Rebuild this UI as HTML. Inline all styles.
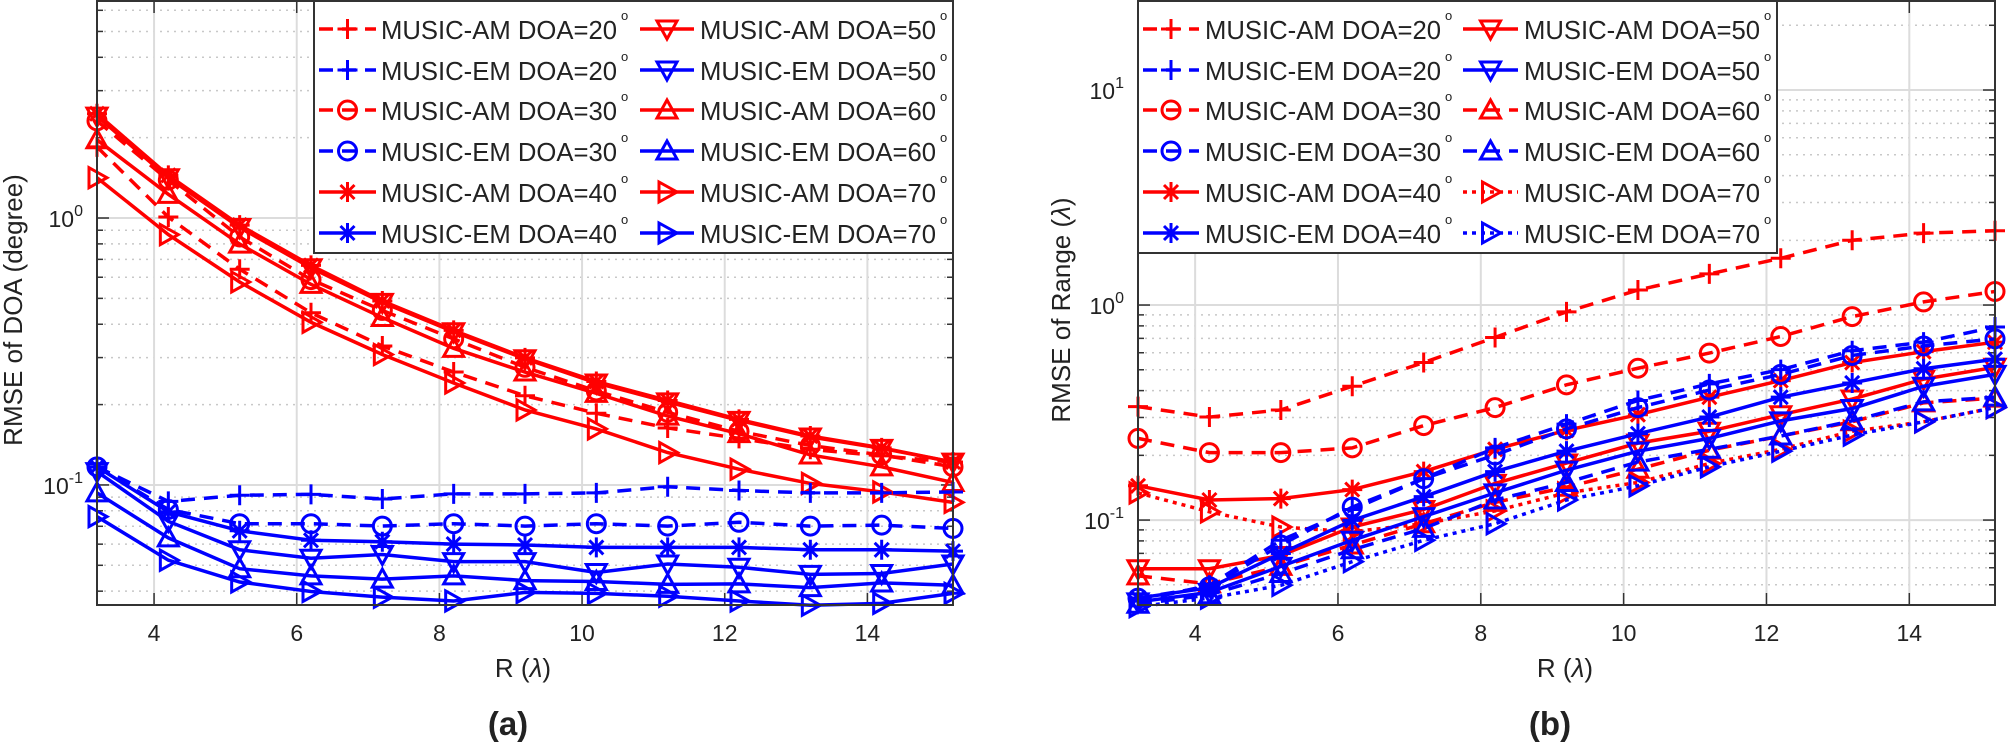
<!DOCTYPE html>
<html><head><meta charset="utf-8"><style>
html,body{margin:0;padding:0;background:#fff;width:2009px;height:743px;overflow:hidden}
svg{display:block}
text{font-family:"Liberation Sans",Arial,sans-serif;fill:#222}
</style></head><body>
<svg id="s" width="2009" height="743" xmlns="http://www.w3.org/2000/svg"></svg>
<script>
const S=document.getElementById('s');let h='';
const K=2.11;
function plot(P){
 const {L,R,T,B,ylo,yhi,labs,ylab,ylabx,lab,labx,data,leg}=P;
 const X=x=>L+(x-3.2)/(12)*(R-L);
 const Y=v=>T+(yhi-v)/(yhi-ylo)*(B-T);
 // grid
 for(let d=Math.floor(ylo);d<=Math.ceil(yhi);d++){
  for(let m=1;m<10;m++){const lv=d+Math.log10(m);if(lv<ylo||lv>yhi)continue;const y=Y(lv);
   if(m==1){h+=`<line x1="${L}" x2="${R}" y1="${y}" y2="${y}" stroke="#dcdcdc" stroke-width="2"/>`;
    h+=`<line x1="${L}" x2="${L+12}" y1="${y}" y2="${y}" stroke="#333" stroke-width="1.5"/><line x1="${R}" x2="${R-12}" y1="${y}" y2="${y}" stroke="#333" stroke-width="1.5"/>`;}
   else{h+=`<line x1="${L}" x2="${R}" y1="${y}" y2="${y}" stroke="#c8c8c8" stroke-width="1.5" stroke-dasharray="2,5"/>`;
    h+=`<line x1="${L}" x2="${L+6}" y1="${y}" y2="${y}" stroke="#333" stroke-width="1.5"/><line x1="${R}" x2="${R-6}" y1="${y}" y2="${y}" stroke="#333" stroke-width="1.5"/>`;}
  }}
 for(let x=4;x<=14;x+=2){const px=L+(x-3.2)/12*(R-L);
  h+=`<line x1="${px}" x2="${px}" y1="${T}" y2="${B}" stroke="#dcdcdc" stroke-width="2"/>`;
  h+=`<line x1="${px}" x2="${px}" y1="${B}" y2="${B-12}" stroke="#333" stroke-width="1.5"/><line x1="${px}" x2="${px}" y1="${T}" y2="${T+12}" stroke="#333" stroke-width="1.5"/>`;
  h+=`<text x="${px}" y="${B+36}" font-size="23" text-anchor="middle">${x}</text>`;}
 labs.forEach(([v,t])=>{const y=Y(v);h+=`<text x="${L-14}" y="${y+9}" font-size="23" text-anchor="end">10<tspan dy="-11" font-size="16">${t}</tspan></text>`;});
 // series
 data.forEach(s=>{
  const pts=s.y.map((zy,i)=>[X(3.2+i),zy/K]);
  const da=s.ls=='--'?'14,9':s.ls==':'?'4,5':'none';
  h+=`<polyline points="${pts.map(p=>p.join(',')).join(' ')}" fill="none" stroke="${s.c}" stroke-width="3.5" stroke-dasharray="${da}"/>`;
  pts.forEach(p=>h+=mk(s.m,p[0],p[1],s.c));
 });
 // box
 h+=`<rect x="${L}" y="${T}" width="${R-L}" height="${B-T}" fill="none" stroke="#333" stroke-width="2"/>`;
 // legend
 h+=`<rect x="${leg.x}" y="${T}" width="${leg.w}" height="${leg.b-T}" fill="#fff" stroke="#333" stroke-width="2"/>`;
 const rows=[29,70,110,151,192,233];
 leg.items.forEach((it,i)=>{const col=i<6?0:1;const r=rows[i%6];const c=leg.cols[col];
  const da=it.ls=='--'?'14,9':it.ls==':'?'4,5':'none';
  h+=`<line x1="${c[0]}" x2="${c[1]}" y1="${r}" y2="${r}" stroke="${it.c}" stroke-width="3.5" stroke-dasharray="${da}"/>`;
  h+=mk(it.m,(c[0]+c[1])/2,r,it.c);
  h+=`<text x="${c[2]}" y="${r+10}" font-size="26" textLength="236" lengthAdjust="spacingAndGlyphs">${it.t}</text><text x="${c[2]+240}" y="${r-9}" font-size="13">o</text>`;});
 h+=`<text transform="translate(${ylabx},310) rotate(-90)" font-size="26" text-anchor="middle">${ylab}</text>`;
 h+=`<text x="${labx}" y="677" font-size="26" text-anchor="middle">R (<tspan font-style="italic">λ</tspan>)</text>`;
 h+=`<text x="${labx-15}" y="735" font-size="33" font-weight="bold" text-anchor="middle">${lab}</text>`;
}
function mk(m,x,y,c){const r=10,sw=3;let o=`fill="none" stroke="${c}" stroke-width="${sw}"`;
 if(m=='+')return `<path d="M${x-r} ${y}H${x+r}M${x} ${y-r}V${y+r}" ${o}/>`;
 if(m=='o')return `<circle cx="${x}" cy="${y}" r="${r-1}" ${o}/>`;
 if(m=='*')return `<path d="M${x-r} ${y}H${x+r}M${x} ${y-r}V${y+r}M${x-7} ${y-7}L${x+7} ${y+7}M${x-7} ${y+7}L${x+7} ${y-7}" ${o}/>`;
 if(m=='v')return `<path d="M${x-r} ${y-8}H${x+r}L${x} ${y+10}Z" ${o}/>`;
 if(m=='^')return `<path d="M${x-r} ${y+8}H${x+r}L${x} ${y-10}Z" ${o}/>`;
 if(m=='>')return `<path d="M${x-8} ${y-r}V${y+r}L${x+10} ${y}Z" ${o}/>`;}
const RD='#f00',BL='#00f';
plot({L:97,R:953,T:1,B:605,ylo:Math.log10(0.0355),yhi:0.813,
 labs:[[0,'0'],[-1,'-1']],ylab:'RMSE of DOA (degree)',ylabx:22,lab:'(a)',labx:523,
 data:[
 {c:RD,ls:'--',m:'+',y:[310,458,568,660,730,785,835,872,903,925,948,962,975]},
 {c:RD,ls:'--',m:'o',y:[255,380,500,590,655,715,775,825,870,910,940,960,985]},
 {c:RD,ls:'-',m:'*',y:[240,370,475,560,635,697,755,805,845,885,920,945,975]},
 {c:RD,ls:'-',m:'v',y:[245,375,480,565,638,700,757,808,848,887,922,946,975]},
 {c:RD,ls:'-',m:'^',y:[295,410,515,600,670,735,785,830,878,915,960,985,1018]},
 {c:RD,ls:'-',m:'>',y:[375,495,595,680,748,808,865,905,955,990,1020,1038,1060]},
 {c:BL,ls:'--',m:'+',y:[985,1058,1045,1043,1053,1042,1042,1040,1027,1035,1040,1040,1038]},
 {c:BL,ls:'--',m:'o',y:[985,1075,1105,1105,1110,1105,1110,1105,1110,1102,1110,1108,1115]},
 {c:BL,ls:'-',m:'*',y:[985,1080,1120,1140,1143,1148,1150,1155,1155,1155,1160,1160,1163]},
 {c:BL,ls:'-',m:'v',y:[995,1100,1160,1178,1170,1185,1185,1208,1190,1197,1212,1210,1190]},
 {c:BL,ls:'-',m:'^',y:[1040,1135,1200,1215,1222,1215,1225,1227,1233,1232,1240,1230,1235]},
 {c:BL,ls:'-',m:'>',y:[1090,1182,1228,1248,1260,1268,1250,1252,1258,1268,1277,1273,1252]}],
 leg:{x:314,w:639,b:253,cols:[[319,376,381],[640,694,700]],items:[
 {c:RD,ls:'--',m:'+',t:'MUSIC-AM DOA=20'},{c:BL,ls:'--',m:'+',t:'MUSIC-EM DOA=20'},
 {c:RD,ls:'--',m:'o',t:'MUSIC-AM DOA=30'},{c:BL,ls:'--',m:'o',t:'MUSIC-EM DOA=30'},
 {c:RD,ls:'-',m:'*',t:'MUSIC-AM DOA=40'},{c:BL,ls:'-',m:'*',t:'MUSIC-EM DOA=40'},
 {c:RD,ls:'-',m:'v',t:'MUSIC-AM DOA=50'},{c:BL,ls:'-',m:'v',t:'MUSIC-EM DOA=50'},
 {c:RD,ls:'-',m:'^',t:'MUSIC-AM DOA=60'},{c:BL,ls:'-',m:'^',t:'MUSIC-EM DOA=60'},
 {c:RD,ls:'-',m:'>',t:'MUSIC-AM DOA=70'},{c:BL,ls:'-',m:'>',t:'MUSIC-EM DOA=70'}]}});
plot({L:1138,R:1995,T:1,B:605,ylo:-1.395,yhi:1.414,
 labs:[[1,'1'],[0,'0'],[-1,'-1']],ylab:'RMSE of Range (<tspan font-style="italic">λ</tspan>)',ylabx:1070,lab:'(b)',labx:1565,
 data:[
 {c:RD,ls:'--',m:'+',y:[858,880,865,815,765,712,658,612,578,545,507,492,487]},
 {c:RD,ls:'--',m:'o',y:[925,955,955,945,898,860,812,777,745,710,668,637,615]},
 {c:RD,ls:'-',m:'*',y:[1025,1055,1052,1033,995,948,908,875,838,803,765,742,722]},
 {c:RD,ls:'-',m:'v',y:[1200,1200,1172,1112,1075,1020,977,935,910,875,842,800,775]},
 {c:RD,ls:'--',m:'^',y:[1215,1232,1195,1150,1105,1060,1028,990,950,920,890,850,840]},
 {c:RD,ls:':',m:'>',y:[1040,1080,1112,1122,1105,1078,1040,1018,978,948,910,890,860]},
 {c:BL,ls:'--',m:'+',y:[1268,1235,1140,1075,1010,945,895,845,810,780,740,722,690]},
 {c:BL,ls:'--',m:'o',y:[1262,1238,1150,1070,1010,960,905,860,823,790,750,730,715]},
 {c:BL,ls:'-',m:'*',y:[1262,1240,1168,1098,1048,995,952,915,880,838,808,778,758]},
 {c:BL,ls:'-',m:'v',y:[1270,1250,1195,1140,1090,1040,992,952,925,888,862,815,790]},
 {c:BL,ls:'--',m:'^',y:[1275,1255,1210,1160,1115,1055,1018,975,948,920,888,848,838]},
 {c:BL,ls:':',m:'>',y:[1280,1262,1235,1185,1140,1105,1055,1025,985,952,918,890,860]}],
 leg:{x:1138,w:639,b:253,cols:[[1143,1199,1205],[1463,1518,1524]],items:[
 {c:RD,ls:'--',m:'+',t:'MUSIC-AM DOA=20'},{c:BL,ls:'--',m:'+',t:'MUSIC-EM DOA=20'},
 {c:RD,ls:'--',m:'o',t:'MUSIC-AM DOA=30'},{c:BL,ls:'--',m:'o',t:'MUSIC-EM DOA=30'},
 {c:RD,ls:'-',m:'*',t:'MUSIC-AM DOA=40'},{c:BL,ls:'-',m:'*',t:'MUSIC-EM DOA=40'},
 {c:RD,ls:'-',m:'v',t:'MUSIC-AM DOA=50'},{c:BL,ls:'-',m:'v',t:'MUSIC-EM DOA=50'},
 {c:RD,ls:'--',m:'^',t:'MUSIC-AM DOA=60'},{c:BL,ls:'--',m:'^',t:'MUSIC-EM DOA=60'},
 {c:RD,ls:':',m:'>',t:'MUSIC-AM DOA=70'},{c:BL,ls:':',m:'>',t:'MUSIC-EM DOA=70'}]}});
S.innerHTML=h;
</script>
</body></html>
